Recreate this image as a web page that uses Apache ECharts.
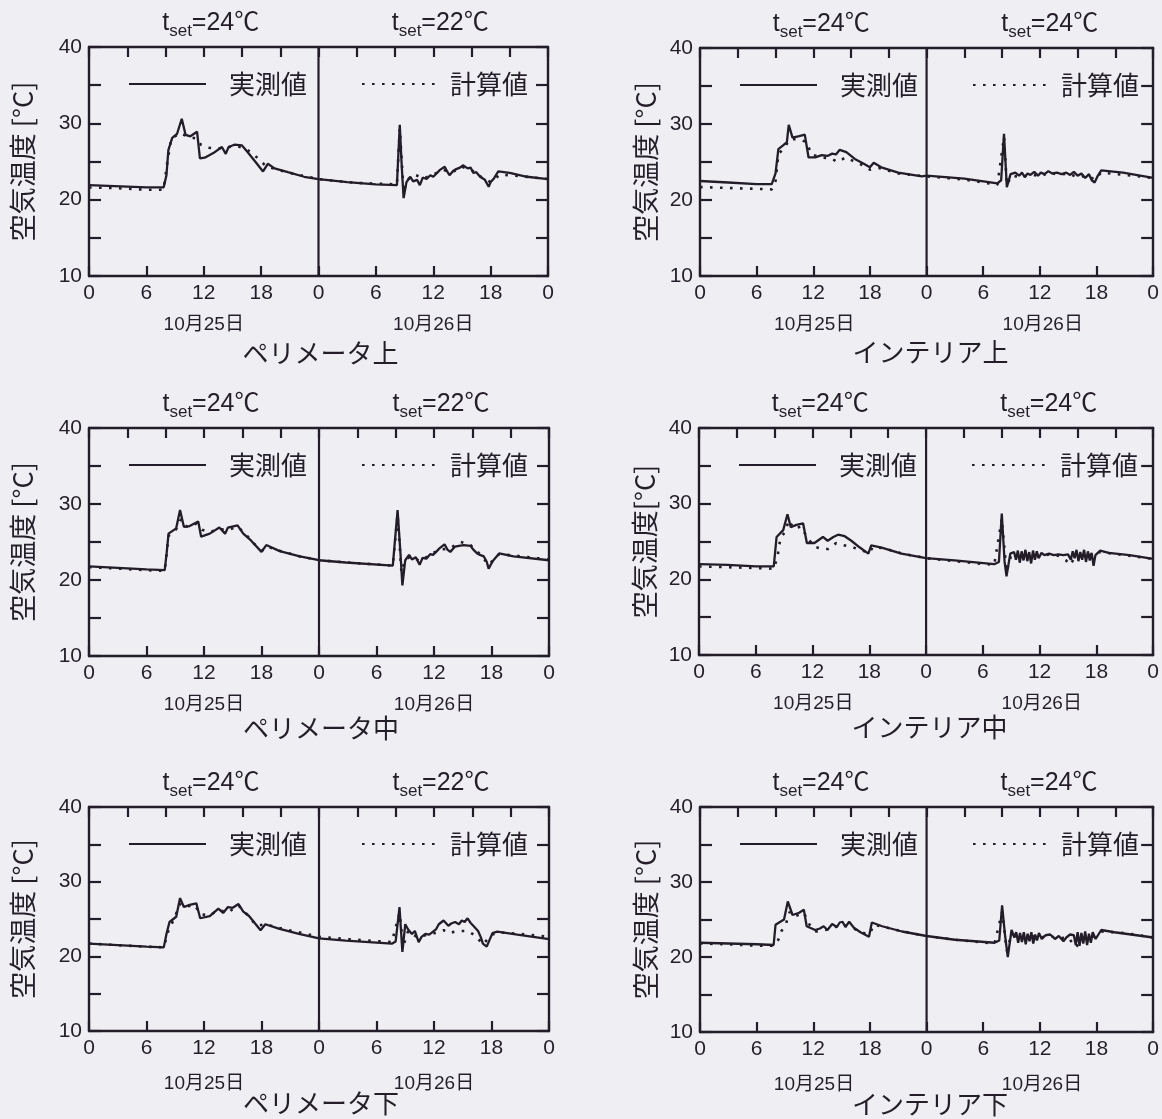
<!DOCTYPE html>
<html>
<head>
<meta charset="utf-8">
<title>空気温度 実測値と計算値</title>
<script src="https://cdn.jsdelivr.net/npm/echarts@6/dist/echarts.min.js"></script>
<style>
  html, body { margin: 0; padding: 0; background: #efeff3; }
  #chart { width: 1162px; height: 1119px; }
</style>
</head>
<body>
<div id="chart"></div>
<script>
// ---- labels ----
const panelNames = ['ペリメータ上', 'インテリア上', 'ペリメータ中', 'インテリア中', 'ペリメータ下', 'インテリア下'];
const yAxisTitles = ['空気温度 [°C]', '空気温度 [°C]', '空気温度 [°C]', '空気温度[°C]', '空気温度 [°C]', '空気温度 [°C]'];
const setpoints = [[24, 22], [24, 24], [24, 22], [24, 24], [24, 22], [24, 24]];
const dayLabels = ['10月25日', '10月26日'];
const seriesNames = ['実測値', '計算値'];
const xTickLabels = ['0', '6', '12', '18', '0', '6', '12', '18', '0'];
const yTickLabels = [10, 20, 30, 40];
const dayBoundaryHour = 24;
const tempRange = [10, 40];

// ---- data: [elapsed hour from 10/25 0:00, air temperature °C] ----
const periUpperMeas = [
  [0,21.9],[2,21.8],[4,21.7],[6,21.6],[7.8,21.6],[8.1,23.2],[8.3,26.5],[8.7,28.1],[9.2,28.6],[9.7,30.6],[10.1,28.5],[10.6,28.3],
  [11.3,28.9],[11.6,25.4],[12.1,25.5],[13.0,26.1],[13.9,26.9],[14.3,26.0],[14.6,26.9],[15.2,27.2],[16.0,27.1],[16.6,26.2],
  [17.5,24.8],[18.2,23.7],[18.7,24.7],[19.4,24.1],[20.8,23.6],[22.5,23.0],[24,22.7],[27,22.3],[30,22.0],[32.2,21.9],
  [32.5,29.8],[32.7,24.5],[32.9,20.2],[33.2,22.3],[33.6,23.0],[33.9,22.4],[34.3,22.6],[34.6,21.9],[34.9,22.9],[35.3,22.7],
  [35.7,23.2],[36.0,23.0],[36.4,23.5],[36.7,23.9],[37.2,24.3],[37.5,23.6],[37.7,23.2],[38.1,23.8],[38.4,24.0],[38.8,24.2],
  [39.1,24.5],[39.6,24.1],[39.9,24.2],[40.2,23.5],[40.5,23.6],[40.9,23.0],[41.1,23.2],[41.4,22.6],[41.6,22.8],[41.8,21.7],
  [42.0,22.3],[42.3,22.7],[42.8,23.7],[44,23.5],[45.8,23.0],[48,22.7]
];
const periUpperCalc = [
  [0,21.6],[3,21.5],[6,21.3],[7.8,21.3],[8.2,25.0],[8.6,28.0],[9.5,28.7],[10.5,28.2],[11.3,28.0],[11.7,27.2],[12.5,26.8],
  [13.5,26.7],[14.5,26.9],[15.5,27.0],[16.5,26.6],[17.5,25.6],[18.5,24.4],[19.5,24.0],[21,23.5],[24,22.7],[28,22.2],
  [32.2,22.0],[32.5,29.3],[32.9,21.0],[33.3,22.6],[34,23.3],[35,22.8],[36,23.3],[37,23.9],[38,23.6],[39,24.3],[40,23.9],
  [41,23.0],[42,22.3],[43,23.3],[45,23.1],[48,22.7]
];
const interUpperMeas = [
  [0,22.5],[3,22.3],[6,22.1],[7.6,22.1],[8.0,23.5],[8.3,26.7],[8.8,27.2],[9.2,27.6],[9.4,29.9],[9.8,28.2],[10.5,28.4],
  [11.1,28.6],[11.5,25.6],[12.2,25.6],[12.9,25.9],[13.5,25.8],[14.0,26.1],[14.4,26.0],[14.8,26.6],[15.5,26.3],[16.4,25.4],
  [17.3,24.8],[18.0,24.3],[18.4,24.9],[19.2,24.3],[21,23.6],[23.5,23.1],[24,23.2],[28,22.8],[31.5,22.2],[31.9,22.6],
  [32.2,28.7],[32.5,21.7],[32.9,23.4],[33.4,23.6],[33.8,23.2],[34.1,23.6],[34.4,23.0],[34.7,23.5],[35.0,23.3],[35.4,23.7],
  [35.8,23.2],[36.1,23.6],[36.5,23.4],[36.9,23.8],[37.3,23.5],[37.8,23.6],[38.3,23.4],[38.8,23.6],[39.2,23.3],[39.6,23.7],
  [40.0,23.2],[40.4,23.5],[40.8,22.9],[41.2,23.4],[41.5,22.6],[41.8,22.3],[42.1,23.1],[42.5,23.9],[44.8,23.6],[48,22.9]
];
const interUpperCalc = [
  [0,21.7],[7.6,21.4],[8.0,22.5],[8.3,26.0],[9.0,27.0],[9.5,28.0],[10.5,28.0],[11.3,27.6],[11.8,26.0],[12.8,25.6],
  [13.8,25.5],[14.6,25.0],[15.4,25.6],[16.3,25.1],[17.2,24.6],[18.0,24.0],[19.0,24.2],[21,23.5],[24,23.1],[28,22.7],
  [31.5,22.0],[32.2,28.3],[32.5,22.0],[33.0,23.2],[34,23.0],[35,23.4],[36,23.1],[37,23.6],[38,23.3],[39,23.5],[40,23.0],
  [41,23.2],[41.8,22.7],[42.5,23.6],[45,23.3],[48,22.9]
];
const periMiddleMeas = [
  [0,21.8],[3,21.6],[6,21.4],[7.9,21.3],[8.1,23.5],[8.3,26.1],[9.1,26.8],[9.5,29.2],[9.9,27.0],[10.5,27.1],[11.4,27.7],
  [11.7,25.7],[12.6,26.1],[13.6,26.9],[14.2,26.1],[14.5,26.9],[15.5,27.2],[16.1,26.1],[16.9,25.2],[18.0,23.7],[18.5,24.6],
  [19.9,23.8],[22,23.1],[24,22.6],[26.8,22.3],[31.7,21.9],[32.2,29.2],[32.5,23.5],[32.7,19.3],[33.0,22.6],[33.4,23.3],
  [33.7,22.7],[34.1,23.0],[34.5,22.0],[34.8,22.9],[35.2,22.8],[35.6,23.4],[35.9,23.3],[36.3,23.8],[36.6,24.2],[37.1,24.7],
  [37.4,24.0],[37.7,23.7],[38.2,24.4],[38.6,24.5],[39.1,24.6],[39.8,24.5],[40.1,24.0],[40.5,23.5],[40.8,23.3],[41.2,23.1],
  [41.5,22.4],[41.7,21.5],[42.0,22.2],[42.2,22.6],[42.8,23.5],[44.3,23.1],[48,22.6]
];
const periMiddleCalc = [
  [0,21.7],[3,21.5],[6,21.3],[7.9,21.2],[8.3,25.8],[9.1,26.7],[9.6,28.0],[10.2,27.0],[11.2,27.4],[11.8,26.6],[12.6,26.3],
  [13.6,26.7],[14.5,26.6],[15.5,27.0],[16.3,26.1],[17.2,24.8],[18.1,23.9],[18.6,24.4],[20,23.8],[22,23.1],[24,22.6],
  [27,22.3],[31.7,21.9],[32.2,28.6],[32.6,21.0],[33.0,22.7],[33.6,23.1],[34.5,22.5],[35.5,23.2],[36.5,24.0],[37.5,24.1],
  [38.8,25.0],[39.8,24.6],[40.8,23.4],[41.7,22.0],[42.8,23.4],[44.5,23.2],[48,22.7]
];
const interMiddleMeas = [
  [0,22.0],[3,21.9],[6,21.7],[7.9,21.7],[8.0,23.0],[8.2,25.6],[8.9,26.5],[9.35,28.6],[9.7,26.9],[10.3,27.2],[11.0,27.4],
  [11.4,24.8],[12.2,24.8],[13.1,25.6],[13.6,25.1],[14.2,25.6],[14.7,25.9],[15.4,25.7],[16.1,25.1],[17.0,24.2],[17.9,23.4],
  [18.2,24.5],[19.3,24.2],[21.4,23.4],[24,22.8],[27,22.5],[31.2,22.0],[31.7,22.3],[32.0,28.7],[32.3,22.3],[32.5,20.4],
  [32.9,23.4],[33.3,23.6],[33.5,22.6],[33.7,23.8],[33.9,22.2],[34.1,23.7],[34.3,22.5],[34.5,23.9],[34.7,22.4],[34.9,23.6],
  [35.1,22.1],[35.3,23.8],[35.5,22.6],[35.7,23.7],[35.9,22.8],[36.2,23.5],[36.5,23.2],[37.0,23.4],[37.5,23.2],[38.0,23.3],
  [38.5,23.2],[39.0,23.3],[39.3,22.6],[39.5,23.7],[39.7,22.8],[39.9,23.9],[40.1,22.4],[40.3,23.6],[40.5,22.6],[40.7,23.9],
  [40.9,22.3],[41.1,23.7],[41.3,22.5],[41.5,23.5],[41.7,21.8],[41.9,23.2],[42.4,23.8],[43.3,23.5],[45.5,23.2],[48,22.7]
];
const interMiddleCalc = [
  [0,21.7],[3,21.6],[6,21.5],[7.9,21.4],[8.3,23.0],[8.6,25.4],[9.1,26.3],[9.5,27.8],[10.0,26.7],[10.8,27.0],[11.4,25.6],
  [12.2,24.3],[13.1,24.0],[13.7,24.0],[14.5,24.8],[15.3,24.5],[16.1,24.3],[17.0,23.9],[18.0,23.5],[18.4,24.3],[19.5,24.1],
  [21.5,23.4],[24,22.8],[27,22.4],[31.2,21.9],[32.0,28.0],[32.5,21.0],[33.0,23.2],[34,23.0],[35,23.2],[36,23.0],[37,23.3],
  [38,23.1],[38.8,22.5],[39.2,21.9],[39.8,23.0],[41,23.1],[42.4,23.6],[45,23.2],[48,22.7]
];
const periLowerMeas = [
  [0,21.7],[3,21.5],[6,21.3],[7.8,21.2],[8.1,23.1],[8.4,24.6],[9.1,25.3],[9.5,27.8],[9.9,26.6],[10.5,26.9],[11.2,27.1],
  [11.6,25.1],[12.6,25.4],[13.5,26.4],[14.0,25.8],[14.5,26.6],[15.0,26.5],[15.6,27.0],[16.1,26.0],[16.7,25.4],[17.9,23.5],
  [18.4,24.3],[19.8,23.7],[21.9,23.0],[24,22.4],[26.8,22.1],[31.6,21.7],[32.0,22.0],[32.4,26.6],[32.7,20.6],[33.0,24.3],
  [33.3,23.6],[33.7,23.0],[34.0,23.4],[34.4,21.9],[34.7,22.6],[35.1,23.0],[35.5,22.9],[35.8,23.2],[36.2,23.6],[36.5,24.3],
  [37.0,24.8],[37.5,24.1],[37.8,24.4],[38.2,24.6],[38.6,24.3],[38.9,24.8],[39.2,24.6],[39.5,25.1],[39.8,24.5],[40.1,24.1],
  [40.6,23.4],[40.9,22.5],[41.1,21.7],[41.5,21.3],[41.8,22.2],[42.1,23.1],[42.6,23.3],[44.7,22.9],[48,22.3]
];
const periLowerCalc = [
  [0,21.7],[3,21.5],[6,21.3],[7.8,21.2],[8.3,23.5],[8.8,24.8],[9.5,27.0],[10.0,26.6],[11.0,26.9],[11.7,25.6],[12.6,25.5],
  [13.5,26.2],[14.5,25.9],[15.6,26.8],[16.5,25.6],[17.5,24.1],[18.4,24.3],[19.8,23.8],[22,23.2],[24,22.6],[27,22.3],
  [31.6,21.9],[32.4,25.8],[32.8,21.4],[33.3,23.4],[34.2,22.6],[35.0,22.8],[36.0,23.1],[37.0,23.5],[37.5,23.1],[38.5,23.4],
  [39.5,23.4],[40.3,22.8],[41.1,21.6],[42.0,22.9],[43,23.2],[45,23.0],[48,22.6]
];
const interLowerMeas = [
  [0,21.9],[3,21.8],[6,21.7],[7.8,21.6],[8.0,24.3],[8.9,25.0],[9.3,27.4],[9.8,25.6],[10.5,25.9],[11.0,26.3],[11.3,24.1],
  [12.2,23.6],[12.7,23.8],[13.1,24.1],[13.5,23.6],[14.0,24.4],[14.5,24.0],[14.8,24.6],[15.1,24.7],[15.4,24.0],[15.8,24.7],
  [16.3,23.9],[17.0,23.3],[17.9,22.7],[18.2,24.6],[19.3,24.1],[21.4,23.4],[24,22.8],[27,22.3],[31.2,21.9],[31.7,22.2],
  [32.0,26.9],[32.3,23.0],[32.6,20.0],[33.0,23.6],[33.3,22.6],[33.5,23.3],[33.7,21.9],[33.9,23.2],[34.1,22.0],[34.3,23.3],
  [34.5,21.7],[34.7,23.1],[34.9,22.1],[35.1,23.3],[35.3,21.8],[35.5,23.0],[35.7,22.2],[35.9,23.2],[36.2,22.4],[36.6,22.9],
  [37.1,23.0],[37.6,22.4],[38.0,22.8],[38.5,22.1],[38.8,22.6],[39.2,23.0],[39.6,22.9],[39.8,21.6],[40.0,23.3],[40.2,21.5],
  [40.4,23.2],[40.6,21.8],[40.8,23.4],[41.0,21.6],[41.2,23.1],[41.4,21.9],[41.6,23.3],[41.9,22.4],[42.5,23.6],[43.9,23.3],
  [48,22.6]
];
const interLowerCalc = [
  [0,21.8],[3,21.7],[6,21.5],[7.8,21.5],[8.3,22.3],[8.6,23.4],[9.1,24.4],[9.5,26.0],[10.0,25.4],[11.0,25.9],[11.6,24.3],
  [12.3,23.4],[13.3,23.6],[14.3,24.0],[15.3,24.2],[16.3,23.8],[17.2,23.2],[18.0,23.1],[18.4,24.3],[19.5,24.0],[21.5,23.4],
  [24,22.8],[27,22.3],[31.2,21.8],[32.0,26.0],[32.5,20.8],[33.0,23.1],[34,22.6],[35,22.8],[36,22.6],[37,22.8],[38,22.5],
  [39,22.6],[39.8,21.3],[40.6,22.4],[41.5,22.6],[42.5,23.4],[45,23.2],[48,22.6]
];

const measured = [periUpperMeas, interUpperMeas, periMiddleMeas, interMiddleMeas, periLowerMeas, interLowerMeas];
const computed = [periUpperCalc, interUpperCalc, periMiddleCalc, interMiddleCalc, periLowerCalc, interLowerCalc];

// ---- styling ----
const INK = '#231d29';
const TXT = '#241e29';
const FONT = "'Liberation Sans', 'Noto Sans CJK JP', sans-serif";
const JFONT = "'Noto Sans CJK JP', 'Liberation Sans', sans-serif";

// plot frames (px)
const boxes = [
  { left: 89,  top: 47,  width: 459, height: 229 },
  { left: 700, top: 48,  width: 457, height: 228 },
  { left: 89,  top: 428, width: 460, height: 228 },
  { left: 699, top: 428, width: 457, height: 227 },
  { left: 89,  top: 807, width: 460, height: 224 },
  { left: 700, top: 807, width: 456, height: 225 }
];
const nameGaps = [53, 41, 53, 41, 53, 41];
// per-row vertical offsets of the date and caption lines below each frame
const dateOffsets = [49, 49, 49, 49, 53, 53];
const captionOffsets = [77, 76, 72, 72, 72, 72];

const grid = [], xAxis = [], yAxis = [], series = [], legend = [], texts = [];

boxes.forEach((b, i) => {
  grid.push({ left: b.left, top: b.top, width: b.width, height: b.height });

  const line = { show: true, onZero: false, lineStyle: { color: INK, width: 2.4 } };
  const tick = (len) => ({ show: true, inside: true, length: len, lineStyle: { color: INK, width: 2.2 } });

  xAxis.push({
    gridIndex: i, type: 'value', position: 'bottom', min: 0, max: 48, interval: 6,
    axisLine: line, axisTick: tick(10), splitLine: { show: false },
    axisLabel: { margin: 7, color: TXT, fontSize: 21, fontFamily: FONT,
      formatter: v => xTickLabels[Math.round(v / 6)] }
  });
  xAxis.push({
    gridIndex: i, type: 'value', position: 'top', min: 0, max: 48, interval: 4,
    axisLine: line, axisTick: tick(10), splitLine: { show: false }, axisLabel: { show: false }
  });
  yAxis.push({
    gridIndex: i, type: 'value', position: 'left', min: tempRange[0], max: tempRange[1], interval: 5,
    axisLine: line, axisTick: tick(12), splitLine: { show: false },
    axisLabel: { margin: 7, color: TXT, fontSize: 21, fontFamily: FONT,
      formatter: v => (yTickLabels.indexOf(v) >= 0 ? String(v) : '') },
    name: yAxisTitles[i], nameLocation: 'middle', nameGap: nameGaps[i],
    nameTextStyle: { color: TXT, fontSize: 27, fontFamily: JFONT }
  });
  yAxis.push({
    gridIndex: i, type: 'value', position: 'right', min: tempRange[0], max: tempRange[1], interval: 5,
    axisLine: line, axisTick: tick(12), splitLine: { show: false }, axisLabel: { show: false }
  });

  series.push({
    type: 'line', name: seriesNames[1], xAxisIndex: 2 * i, yAxisIndex: 2 * i,
    data: computed[i], symbol: 'none', z: 2, silent: true,
    lineStyle: { color: INK, width: 2.6, type: [2.6, 7.4] }, itemStyle: { color: INK }
  });
  series.push({
    type: 'line', name: seriesNames[0], xAxisIndex: 2 * i, yAxisIndex: 2 * i,
    data: measured[i], symbol: 'none', z: 3, silent: true,
    lineStyle: { color: INK, width: 2.3 }, itemStyle: { color: INK }
  });
  // day boundary (0:00 on 10/26)
  series.push({
    type: 'line', name: 'day', xAxisIndex: 2 * i, yAxisIndex: 2 * i,
    data: [[dayBoundaryHour, tempRange[0]], [dayBoundaryHour, tempRange[1]]],
    symbol: 'none', z: 4, silent: true, lineStyle: { color: INK, width: 2.2 }
  });

  const legendCommon = {
    orient: 'horizontal', padding: 0, selectedMode: false, itemHeight: 14,
    itemStyle: { color: 'transparent', borderColor: 'transparent', borderWidth: 0, opacity: 0 },
    textStyle: { color: TXT, fontSize: 26, fontFamily: JFONT }
  };
  legend.push(Object.assign({}, legendCommon, {
    data: [seriesNames[0]], left: b.left + 39, top: b.top + 24, itemWidth: 77,
    textStyle: Object.assign({}, legendCommon.textStyle, { padding: [0, 0, 0, 18] })
  }));
  legend.push(Object.assign({}, legendCommon, {
    data: [seriesNames[1]], left: b.left + 272, top: b.top + 24, itemWidth: 73,
    textStyle: Object.assign({}, legendCommon.textStyle, { padding: [0, 0, 0, 10] })
  }));

  // set-point labels, dates, panel caption
  const half = b.width / 2;
  const centers = [b.left + half / 2, b.left + half + half / 2];
  centers.forEach((cx, k) => {
    texts.push({
      type: 'text', x: cx + 7, y: b.top - 25, silent: true,
      style: {
        text: '{a|t}{b|set}{a|=' + setpoints[i][k] + '℃}',
        align: 'center', verticalAlign: 'middle',
        rich: {
          a: { fontSize: 25, fontFamily: FONT, fill: TXT, lineHeight: 28, verticalAlign: 'bottom' },
          b: { fontSize: 17, fontFamily: FONT, fill: TXT, lineHeight: 17, verticalAlign: 'bottom', padding: [0, 0, -4, 0] }
        }
      }
    });
    texts.push({
      type: 'text', x: cx, y: b.top + b.height + dateOffsets[i], silent: true,
      style: { text: dayLabels[k], align: 'center', verticalAlign: 'middle', fontSize: 19, fontFamily: FONT, fill: TXT }
    });
  });
  texts.push({
    type: 'text', x: b.left + half + 2, y: b.top + b.height + captionOffsets[i], silent: true,
    style: { text: panelNames[i], align: 'center', verticalAlign: 'middle', fontSize: 26, fontFamily: JFONT, fill: TXT }
  });
});

const chart = echarts.init(document.getElementById('chart'), null, { renderer: 'canvas' });
chart.setOption({
  backgroundColor: '#efeff3',
  animation: false,
  grid, xAxis, yAxis, series, legend,
  graphic: { elements: texts }
});
</script>
</body>
</html>
